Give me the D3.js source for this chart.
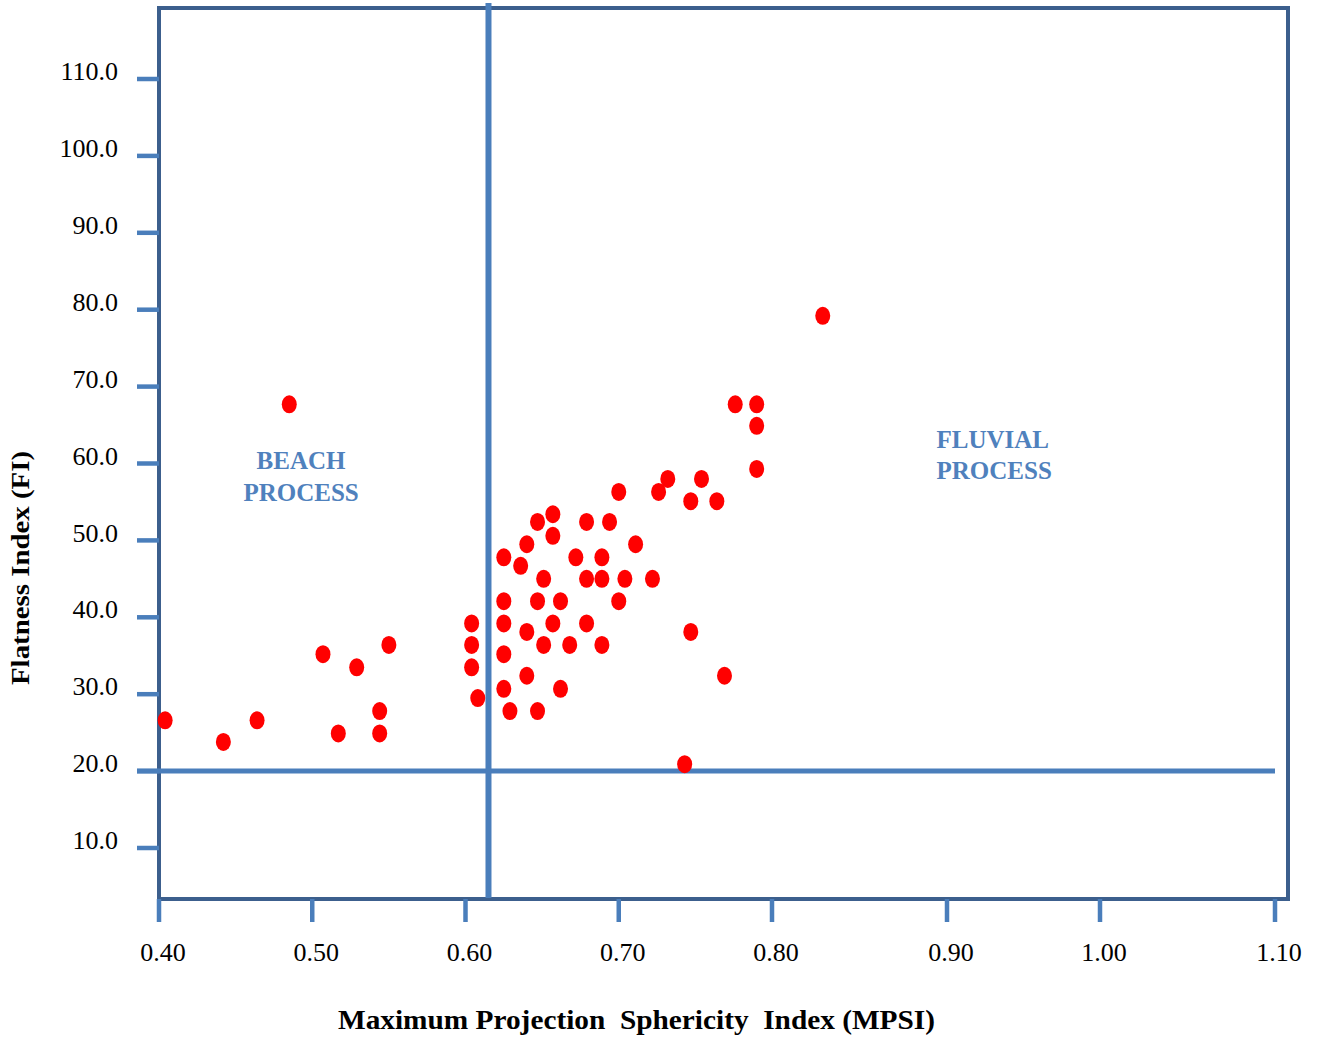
<!DOCTYPE html>
<html>
<head>
<meta charset="utf-8">
<script src="https://cdn.jsdelivr.net/npm/d3@7"></script>
<style>
  body { margin: 0; background: #fff; }
  text { font-family: "Liberation Serif", "Times New Roman", serif; }
</style>
</head>
<body>
<div id="chart-container"></div>
<script>
// MPSI (x) and flatness index (y) of each sample
const mpsi = [0.404, 0.442, 0.464, 0.485, 0.507, 0.517, 0.529, 0.544, 0.544, 0.550,
    0.604, 0.604, 0.604, 0.608, 0.625, 0.625, 0.625, 0.625, 0.625, 0.629,
    0.636, 0.640, 0.640, 0.640, 0.647, 0.647, 0.647, 0.651, 0.651, 0.657,
    0.657, 0.657, 0.662, 0.662, 0.668, 0.672, 0.679, 0.679, 0.679, 0.689,
    0.689, 0.689, 0.694, 0.700, 0.700, 0.704, 0.711, 0.722, 0.726, 0.732,
    0.743, 0.747, 0.747, 0.754, 0.764, 0.769, 0.776, 0.790, 0.790, 0.790, 0.829];
const flatness = [26.6, 23.8, 26.6, 67.7, 35.2, 24.9, 33.5, 27.8, 24.9, 36.4,
    39.2, 36.4, 33.5, 29.5, 47.8, 42.1, 39.2, 35.2, 30.7, 27.8,
    46.7, 49.5, 38.1, 32.4, 52.4, 42.1, 27.8, 45.0, 36.4, 53.4,
    50.6, 39.2, 42.1, 30.7, 36.4, 47.8, 52.4, 45.0, 39.2, 47.8,
    45.0, 36.4, 52.4, 56.3, 42.1, 45.0, 49.5, 45.0, 56.3, 58.0,
    20.9, 55.1, 38.1, 58.0, 55.1, 32.4, 67.7, 67.7, 64.9, 59.3, 79.2];

const xTicks = [0.40, 0.50, 0.60, 0.70, 0.80, 0.90, 1.00, 1.10];
const yTicks = [10, 20, 30, 40, 50, 60, 70, 80, 90, 100, 110];

// threshold lines separating the process fields
const mpsiLimit = 0.615;
const flatLimit = 20;

const regionLabels = [
    { lines: ["BEACH", "PROCESS"], x: 0.4927, y: 60.4, anchor: "middle" },
    { lines: ["FLUVIAL", "PROCESS"], x: 0.894, y: 63.2, anchor: "start" }
];

const width = 1320, height = 1042;
const plot = { left: 159, right: 1288, top: 8, bottom: 899 };

const frameColor = "#3c5f8d";
const lineColor = "#4a7ebb";

const svg = d3.select("#chart-container")
    .append("svg")
    .attr("width", width)
    .attr("height", height);

// x axis in the original is not evenly spaced beyond 0.80
const x = d3.scaleLinear()
    .domain([0.4, 0.8, 0.9, 1.0, 1.1])
    .range([159, 772, 947, 1100, 1275]);

const y = d3.scaleLinear()
    .domain([10, 110])
    .range([848, 79]);

const data = mpsi.map((d, i) => ({ x: d, y: flatness[i] }));

// plot frame
svg.append("rect")
    .attr("x", plot.left)
    .attr("y", plot.top)
    .attr("width", plot.right - plot.left)
    .attr("height", plot.bottom - plot.top)
    .attr("fill", "none")
    .attr("stroke", frameColor)
    .attr("stroke-width", 4);

// y ticks + labels
svg.selectAll(".ytick")
    .data(yTicks)
    .join("line")
    .attr("class", "ytick")
    .attr("x1", plot.left - 22)
    .attr("x2", plot.left)
    .attr("y1", d => y(d))
    .attr("y2", d => y(d))
    .attr("stroke", lineColor)
    .attr("stroke-width", 4.5);

svg.selectAll(".ylabel")
    .data(yTicks)
    .join("text")
    .attr("class", "ylabel")
    .attr("x", 118)
    .attr("y", d => y(d) - 8)
    .attr("dy", "0.35em")
    .attr("text-anchor", "end")
    .style("font-size", "26px")
    .text(d => d.toFixed(1));

// x ticks + labels
svg.selectAll(".xtick")
    .data(xTicks)
    .join("line")
    .attr("class", "xtick")
    .attr("x1", d => x(d))
    .attr("x2", d => x(d))
    .attr("y1", plot.bottom)
    .attr("y2", plot.bottom + 23)
    .attr("stroke", lineColor)
    .attr("stroke-width", 4.5);

svg.selectAll(".xlabel")
    .data(xTicks)
    .join("text")
    .attr("class", "xlabel")
    .attr("x", d => x(d) + 4)
    .attr("y", 952)
    .attr("dy", "0.35em")
    .attr("text-anchor", "middle")
    .style("font-size", "26px")
    .text(d => d.toFixed(2));

// threshold lines
svg.append("line")
    .attr("x1", plot.left - 22)
    .attr("x2", x(1.1))
    .attr("y1", y(flatLimit))
    .attr("y2", y(flatLimit))
    .attr("stroke", lineColor)
    .attr("stroke-width", 5);

svg.append("line")
    .attr("x1", x(mpsiLimit))
    .attr("x2", x(mpsiLimit))
    .attr("y1", 3)
    .attr("y2", plot.bottom - 1)
    .attr("stroke", lineColor)
    .attr("stroke-width", 6);

// points
svg.selectAll(".dot")
    .data(data)
    .join("ellipse")
    .attr("class", "dot")
    .attr("cx", d => x(d.x))
    .attr("cy", d => y(d.y))
    .attr("rx", 7.5)
    .attr("ry", 9)
    .attr("fill", "#ff0000");

// region labels
regionLabels.forEach(r => {
    const t = svg.append("text")
        .attr("x", x(r.x))
        .attr("y", y(r.y))
        .attr("text-anchor", r.anchor)
        .style("font-size", "25px")
        .style("font-weight", "bold")
        .style("fill", "#4f81bd");
    r.lines.forEach((s, i) => {
        t.append("tspan")
            .attr("x", x(r.x))
            .attr("dy", i === 0 ? "0.35em" : "1.27em")
            .text(s);
    });
});

// axis titles
svg.append("text")
    .attr("x", 338)
    .attr("y", 1029)
    .attr("textLength", 597)
    .attr("lengthAdjust", "spacingAndGlyphs")
    .style("font-size", "28px")
    .style("font-weight", "bold")
    .style("white-space", "pre")
    .text("Maximum Projection  Sphericity  Index (MPSI)");

svg.append("text")
    .attr("transform", "translate(29,685) rotate(-90)")
    .attr("textLength", 234)
    .attr("lengthAdjust", "spacingAndGlyphs")
    .style("font-size", "25px")
    .style("font-weight", "bold")
    .text("Flatness Index (FI)");
</script>
</body>
</html>
